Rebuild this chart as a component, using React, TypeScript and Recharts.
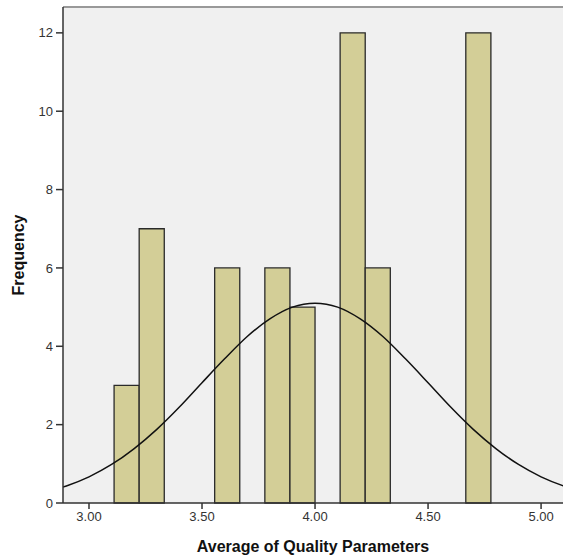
import React from 'react';
import { ComposedChart, Line, XAxis, YAxis, ReferenceArea, ReferenceLine, CartesianGrid, Label } from 'recharts';

// Histogram bins (lower edge, upper edge) and frequencies
const binStarts = [3.111, 3.222, 3.333, 3.444, 3.556, 3.667, 3.778, 3.889, 4.0, 4.111, 4.222, 4.333, 4.444, 4.556, 4.667];
const binEnds = [3.222, 3.333, 3.444, 3.556, 3.667, 3.778, 3.889, 4.0, 4.111, 4.222, 4.333, 4.444, 4.556, 4.667, 4.778];
const frequencies = [3, 7, 0, 0, 6, 0, 6, 5, 0, 12, 6, 0, 0, 0, 12];

// Normal curve points
const curveX = [2.8, 2.9, 3.0, 3.1, 3.2, 3.3, 3.4, 3.5, 3.6, 3.7, 3.8, 3.9, 4.0, 4.1, 4.2, 4.3, 4.4, 4.5, 4.6, 4.7, 4.8, 4.9, 5.0, 5.1, 5.2];
const curveY = [0.273, 0.436, 0.668, 0.983, 1.39, 1.88, 2.45, 3.07, 3.68, 4.25, 4.7, 5.0, 5.1, 5.0, 4.7, 4.25, 3.68, 3.07, 2.45, 1.88, 1.39, 0.983, 0.668, 0.436, 0.273];

const xTicks = [3.0, 3.5, 4.0, 4.5, 5.0];
const yTicks = [0, 2, 4, 6, 8, 10, 12];

const xDomain: [number, number] = [2.885, 5.097];
const yDomain: [number, number] = [0, 12.66];

const curveData = curveX.map((x, i) => ({ x, y: curveY[i] }));

const FONT = 'Arial, "Liberation Sans", Helvetica, sans-serif';

export default function App() {
  return (
    <div style={{ position: 'absolute', left: 0, top: 0, width: 563, height: 559, background: '#fff' }}>
      <ComposedChart
        width={563}
        height={559}
        data={curveData}
        margin={{ top: 7, right: 0, bottom: 0, left: 0 }}
      >
        <CartesianGrid fill="#f0f0f0" horizontal={false} vertical={false} stroke="none" />
        <XAxis
          dataKey="x"
          type="number"
          domain={xDomain}
          ticks={xTicks}
          allowDataOverflow
          tickFormatter={(v: number) => v.toFixed(2)}
          height={56}
          tickSize={6}
          tickMargin={3}
          stroke="#333"
          tick={{ fill: '#333', fontSize: 13, fontFamily: FONT }}
          axisLine={{ stroke: '#333', strokeWidth: 1.5 }}
          tickLine={{ stroke: '#333', strokeWidth: 1.5 }}
        >
          <Label
            value="Average of Quality Parameters"
            position="insideBottom"
            offset={7}
            style={{ fontSize: 16, fontWeight: 'bold', fill: '#111', fontFamily: FONT }}
          />
        </XAxis>
        <YAxis
          type="number"
          domain={yDomain}
          ticks={yTicks}
          allowDataOverflow
          width={63}
          tickSize={7}
          tickMargin={3}
          stroke="#333"
          tick={{ fill: '#333', fontSize: 13, fontFamily: FONT }}
          axisLine={{ stroke: '#333', strokeWidth: 1.5 }}
          tickLine={{ stroke: '#333', strokeWidth: 1.5 }}
        >
          <Label
            content={(props: any) => {
              const vb = props.viewBox || { x: 0, y: 7, width: 63, height: 496 };
              const cy = vb.y + vb.height / 2;
              return (
                <text
                  x={24}
                  y={cy}
                  transform={`rotate(-90, 24, ${cy})`}
                  textAnchor="middle"
                  style={{ fontSize: 16, fontWeight: 'bold', fill: '#111', fontFamily: FONT }}
                >
                  Frequency
                </text>
              );
            }}
          />
        </YAxis>
        <ReferenceLine y={yDomain[1]} stroke="#999" strokeWidth={2} ifOverflow="visible" />
        {frequencies.map((f, i) =>
          f > 0 ? (
            <ReferenceArea
              key={i}
              x1={binStarts[i]}
              x2={binEnds[i]}
              y1={0}
              y2={f}
              fill="#d3ce97"
              fillOpacity={1}
              stroke="#2a2a2a"
              strokeWidth={1.3}
              ifOverflow="visible"
            />
          ) : null
        )}
        <Line
          type="monotone"
          dataKey="y"
          stroke="#111"
          strokeWidth={1.5}
          dot={false}
          activeDot={false}
          isAnimationActive={false}
        />
      </ComposedChart>
    </div>
  );
}
